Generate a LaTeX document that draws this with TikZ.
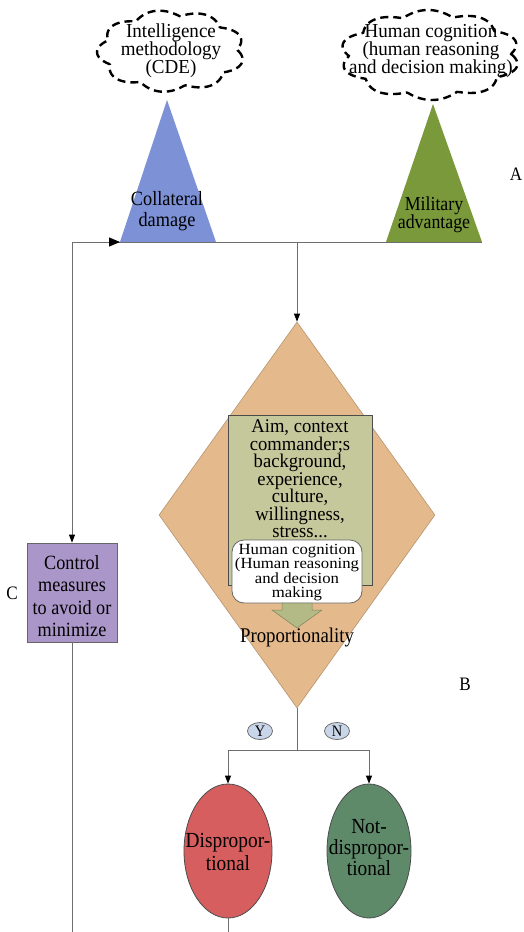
\documentclass[tikz,border=0pt]{standalone}
\usepackage{fontspec}
\setmainfont[FakeStretch=0.9]{Liberation Serif}
\newfontfamily\widerserif[FakeStretch=1.08]{Liberation Serif}
\newfontfamily\factserif[FakeStretch=0.96]{Liberation Serif}
\usetikzlibrary{shapes.geometric,arrows.meta}
% fixed line pitch even where lines would touch
\newcommand{\fixedpitch}{\lineskiplimit=-60pt\lineskip=0pt}
\definecolor{linegray}{RGB}{110,110,110}
\definecolor{cdblue}{RGB}{125,145,215}
\definecolor{mavgreen}{RGB}{122,153,58}
\definecolor{diatan}{RGB}{228,185,140}
\definecolor{factgreen}{RGB}{196,200,154}
\definecolor{arrowolive}{RGB}{180,186,134}
\definecolor{ctrlpurple}{RGB}{170,150,200}
\definecolor{disred}{RGB}{214,94,94}
\definecolor{notgreen}{RGB}{94,138,106}
\definecolor{tagblue}{RGB}{201,213,232}
\tikzset{
  conn/.style={draw=linegray, line width=1pt},
  arr/.style={conn, -{Triangle[length=8pt,width=6pt,fill=black,color=black]}},
  bigarr/.style={conn, -{Triangle[length=11pt,width=9pt,fill=black,color=black]}},
  cloudline/.style={draw=black, line width=2.4pt, dash pattern=on 8pt off 5pt},
  thoughttext/.style={align=center, inner sep=0pt,
    font=\factserif\fontsize{19.8}{18.2}\selectfont\fixedpitch},
  lbl/.style={align=center, font=\fontsize{20.3}{21}\selectfont\fixedpitch, inner sep=0pt},
  letter/.style={font=\fontsize{19}{19}\selectfont, inner sep=0pt},
  tag/.style={ellipse, draw=linegray, fill=tagblue, line width=0.8pt,
    minimum width=25pt, minimum height=17pt, inner sep=0pt,
    font=\fontsize{16}{16}\selectfont},
  outcome/.style={ellipse, draw=black!70, line width=0.8pt, minimum width=88pt,
    minimum height=134pt, inner sep=0pt},
  outcometext/.style={align=center, inner sep=0pt, font=\fontsize{21.5}{23}\selectfont\fixedpitch}
}
\begin{document}
\begin{tikzpicture}[x=1pt,y=-1pt]
\useasboundingbox (0,0) rectangle (524,932);
\fill[white] (0,0) rectangle (524,932);

% thought clouds at the top: scalloped ellipses
\draw[cloudline] plot[domain=0:360, samples=271, smooth, variable=\t]
  ({171+(66+8*abs(sin(4.5*\t+10)))*cos(\t)}, {51+(35+6*abs(sin(4.5*\t+10)))*sin(\t)});
\node[thoughttext] (cde) at (171,51) {Intelligence\\methodology\\(CDE)};
\draw[cloudline] plot[domain=0:360, samples=271, smooth, variable=\t]
  ({430+(81+9*abs(sin(5*\t+8)))*cos(\t)}, {55+(39+6*abs(sin(5*\t+8)))*sin(\t)});
\node[thoughttext] (hc) at (431,51)
  {Human cognition\\(human reasoning\\and decision making)};

% the two weighed quantities
\coordinate (cdL) at (120,242); \coordinate (cdR) at (216,242); \coordinate (cdT) at (167,100);
\coordinate (maL) at (386,242); \coordinate (maR) at (482,242); \coordinate (maT) at (433,104);
\fill[cdblue] (cdL) -- (cdT) -- (cdR) -- cycle;
\fill[mavgreen] (maL) -- (maT) -- (maR) -- cycle;
\node[lbl] (cdtext) at (167,211) {Collateral\\damage};
\node[lbl, font=\fontsize{19.8}{18.5}\selectfont\fixedpitch] (matext) at (434,215) {Military\\advantage};
\node[letter] (A) at (516,174) {A};

% proportionality judgement
\node[diamond, fill=diatan, draw=diatan!80!black, line width=0.6pt,
  minimum width=276pt, minimum height=386pt, inner sep=0pt] (dia) at (297,515) {};
\node[draw=black!70, fill=factgreen, line width=0.8pt, minimum width=144pt,
  minimum height=170pt, inner sep=0pt] (facts) at (300,500) {};
\node[lbl, anchor=north, font=\factserif\fontsize{19.4}{17.5}\selectfont\fixedpitch]
  (factstext) at (300,419.5)
  {Aim, context\\commander;s\\background,\\experience,\\culture,\\willingness,\\stress...};
\node[draw=black!60, fill=white, rounded corners=12pt, line width=0.8pt,
  minimum width=130pt, minimum height=63pt, inner sep=0pt] (cog) at (297,571.5) {};
\node[align=center, inner sep=0pt, font=\widerserif\fontsize{15.5}{14.4}\selectfont\fixedpitch]
  (cogtext) at (297,572.5) {Human cognition\\(Human reasoning\\and decision\\making};
\fill[arrowolive, draw=arrowolive!70!black, line width=0.5pt]
  (282,603) -- (312,603) -- (312,610) -- (322,610) -- (297,628)
  -- (272,610) -- (282,610) -- cycle;
\node[lbl, font=\fontsize{20.9}{21}\selectfont] (prop) at (297,637) {Proportionality};
\node[letter] (B) at (465,684) {B};

% control measures loop
\node[draw=black!60, fill=ctrlpurple, line width=0.8pt, minimum width=90pt,
  minimum height=99pt, inner sep=0pt] (ctrl) at (72,592.5) {};
\node[align=center, inner sep=0pt, font=\fontsize{20.2}{22.2}\selectfont\fixedpitch]
  (ctrltext) at (72,596) {Control\\measures\\to avoid or\\minimize};
\node[letter] (C) at (12,593) {C};

% outcomes
\node[outcome, fill=disred] (dis) at (228,851) {};
\node[outcometext] (distext) at (228,852) {Dispropor-\\tional};
\node[outcome, fill=notgreen, minimum width=84pt] (notdis) at (369,851) {};
\node[outcometext, font=\fontsize{21.5}{21}\selectfont\fixedpitch] (notdistext) at (369,848)
  {Not-\\dispropor-\\tional};
\node[tag] (Y) at (260,731) {Y};
\node[tag] (N) at (337,731) {N};

% connectors
\coordinate (corner) at (72,242);
\coordinate (split) at (297,242);
\coordinate (fork) at (297,750);
\coordinate (bottomL) at (72,932);
\coordinate (bottomD) at (228,932);
\draw[conn] (corner) -- (maR);
\draw[bigarr] (corner) -- (cdL);
\draw[arr] (corner) -- (ctrl.north);
\draw[conn] (ctrl.south) -- (bottomL);
\draw[arr] (split) -- (dia.north);
\draw[conn] (dia.south) -- (fork);
\draw[arr] (fork) -| (dis.north);
\draw[arr] (fork) -| (notdis.north);
\draw[conn] (dis.south) -- (bottomD);
\end{tikzpicture}
\end{document}
